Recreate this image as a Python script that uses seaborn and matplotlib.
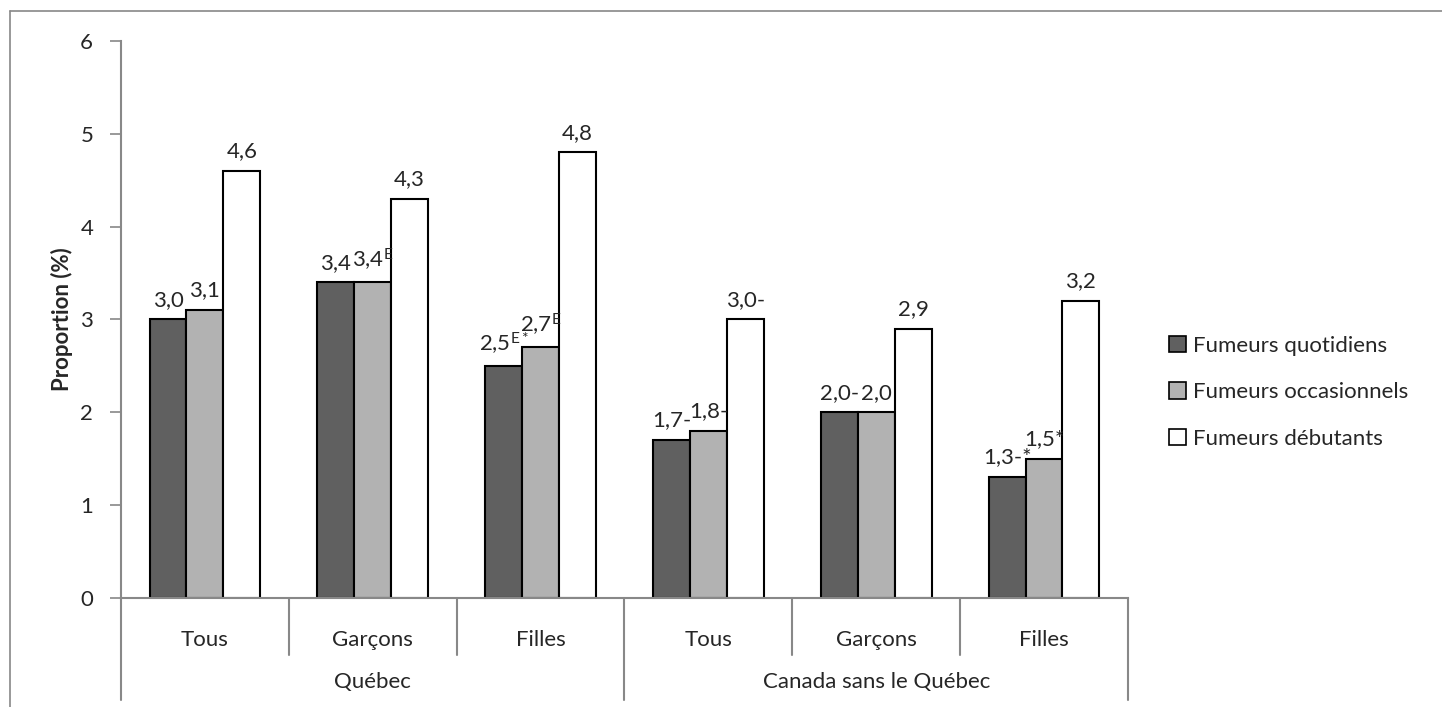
import pandas as pd
import numpy as np
import seaborn as sns
import matplotlib.pyplot as plt
from matplotlib.lines import Line2D

# categories and series
groups = ['Québec', 'Québec', 'Québec',
          'Canada sans le Québec', 'Canada sans le Québec', 'Canada sans le Québec']
subgroups = ['Tous', 'Garçons', 'Filles', 'Tous', 'Garçons', 'Filles']
series_names = ['Fumeurs quotidiens', 'Fumeurs occasionnels', 'Fumeurs débutants']

quotidiens = [3.0, 3.4, 2.5, 1.7, 2.0, 1.3]
occasionnels = [3.1, 3.4, 2.7, 1.8, 2.0, 1.5]
debutants = [4.6, 4.3, 4.8, 3.0, 2.9, 3.2]

# bar labels (with significance marks)
labels_quot = ['3,0', '3,4', r'2,5$^{\mathrm{E*}}$', '1,7-', '2,0-', '1,3-*']
labels_occ = ['3,1', r'3,4$^{\mathrm{E}}$', r'2,7$^{\mathrm{E}}$', '1,8-', '2,0', '1,5*']
labels_deb = ['4,6', '4,3', '4,8', '3,0-', '2,9', '3,2']

yticks = [0, 1, 2, 3, 4, 5, 6]

FS = 16

sns.set_style('white')
plt.rcParams['font.family'] = ['Lato', 'DejaVu Sans']
plt.rcParams['mathtext.fontset'] = 'custom'
plt.rcParams['mathtext.rm'] = 'Lato'
plt.rcParams['mathtext.it'] = 'Lato:italic'
plt.rcParams['mathtext.bf'] = 'Lato:bold'

keys = [f'{g}|{s}|{i}' for i, (g, s) in enumerate(zip(groups, subgroups))]
df = pd.DataFrame({
    'cat': keys * 3,
    'serie': np.repeat(series_names, len(keys)),
    'val': quotidiens + occasionnels + debutants,
})

fig = plt.figure(figsize=(14.42, 7.07), dpi=100)
ax = fig.add_axes([0.0839, 0.1542, 0.6983, 0.7878])

palette = {series_names[0]: '#606060', series_names[1]: '#b2b2b2', series_names[2]: '#ffffff'}
sns.barplot(data=df, x='cat', y='val', hue='serie', order=keys, hue_order=series_names,
            palette=palette, width=0.66, edgecolor='black', linewidth=1.5,
            saturation=1, errorbar=None, ax=ax)

for cont, labs in zip(ax.containers, [labels_quot, labels_occ, labels_deb]):
    ax.bar_label(cont, labels=labs, padding=7, fontsize=FS)

ax.set_ylim(0, 6)
ax.set_xlim(-0.5, len(keys) - 0.5)
ax.set_yticks(yticks)
ax.set_yticklabels([str(t) for t in yticks], fontsize=FS)
ax.tick_params(axis='y', direction='out', length=8, width=1.2, color='#888888', pad=12, left=True)
ax.set_ylabel('Proportion (%)', fontsize=FS, fontweight='bold', labelpad=5)
ax.set_xlabel('')
ax.set_xticks([])

for side in ['top', 'right']:
    ax.spines[side].set_visible(False)
for side in ['left', 'bottom']:
    ax.spines[side].set_color('#888888')
    ax.spines[side].set_linewidth(1.5)

# two-level category axis
trans = ax.get_xaxis_transform()
for i, s in enumerate(subgroups):
    ax.text(i, -0.075, s, transform=trans, ha='center', va='center', fontsize=FS)
for b in np.arange(-0.5, len(keys), 1.0):
    is_group_edge = b in (-0.5, 2.5, len(keys) - 0.5)
    y_end = -0.183 if is_group_edge else -0.102
    ax.add_line(Line2D([b, b], [0, y_end], transform=trans, color='#888888',
                       lw=1.5, clip_on=False))
ax.text(1, -0.15, 'Québec', transform=trans, ha='center', va='center', fontsize=FS)
ax.text(4, -0.15, 'Canada sans le Québec', transform=trans, ha='center', va='center', fontsize=FS)

leg = ax.legend(loc='center left', bbox_to_anchor=(0.797, 0.445), bbox_transform=fig.transFigure,
                frameon=False, fontsize=FS, handlelength=0.75, handleheight=0.75,
                handletextpad=0.3, labelspacing=1.2)
for h in leg.legend_handles:
    h.set_edgecolor('black')
    h.set_linewidth(1.2)

# chart frame (top and left edges visible)
fig.add_artist(Line2D([10 / 1442, 1], [1 - 11 / 707, 1 - 11 / 707], transform=fig.transFigure,
                      color='#888888', lw=1.2))
fig.add_artist(Line2D([10 / 1442, 10 / 1442], [0, 1 - 11 / 707], transform=fig.transFigure,
                      color='#888888', lw=1.2))

fig.savefig('out.png', dpi=100)
